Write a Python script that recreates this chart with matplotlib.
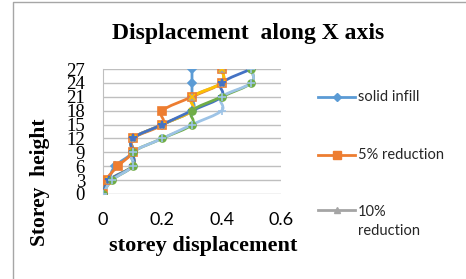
import matplotlib
matplotlib.use("Agg")
import matplotlib.pyplot as plt
from matplotlib.path import Path
from matplotlib.patches import PathPatch
from matplotlib.lines import Line2D
import numpy as np

# storey heights and displacements
storey = [0, 3, 6, 9, 12, 15, 18, 21, 24, 27]
solid_infill = [0, 0.02, 0.04, 0.1, 0.1, 0.2, 0.3, 0.3, 0.3, 0.3]
red_5 = [0, 0.01, 0.05, 0.1, 0.1, 0.2, 0.2, 0.3, 0.4, 0.4]
red_10 = [0, 0.02, 0.1, 0.1, 0.1, 0.2, 0.3, 0.3, 0.4, 0.4]
red_15 = [0, 0.02, 0.1, 0.1, 0.1, 0.2, 0.3, 0.3, 0.4, 0.4]
red_20 = [0, 0.02, 0.1, 0.1, 0.1, 0.2, 0.3, 0.4, 0.4, 0.5]
red_25 = [0, 0.03, 0.1, 0.1, 0.2, 0.3, 0.3, 0.4, 0.5, 0.5]
red_30 = [0, 0.03, 0.1, 0.1, 0.2, 0.3, 0.4, 0.4, 0.5, 0.5]

series = [solid_infill, red_5, red_10, red_15, red_20, red_25, red_30]
colors = ["#5B9BD5", "#ED7D31", "#A5A5A5", "#FFC000", "#4472C4", "#70AD47", "#9DC3E6"]
markers = ["D", "s", "^", "x", "*", "o", "+"]
msizes = [4.5, 5.5, 5, 5, 6, 5, 6]
legend_labels = ["solid infill", "5% reduction", "10%\nreduction"]


def smooth_path(xs, ys):
    # excel-style smoothed line as cubic bezier segments
    pts = np.column_stack([xs, ys]).astype(float)
    n = len(pts)
    verts = [pts[0]]
    codes = [Path.MOVETO]
    for i in range(n - 1):
        p0 = pts[i - 1] if i > 0 else pts[i]
        p1 = pts[i]
        p2 = pts[i + 1]
        p3 = pts[i + 2] if i + 2 < n else pts[i + 1]
        c1 = p1 + (p2 - p0) / 6.0
        c2 = p2 - (p3 - p1) / 6.0
        verts += [c1, c2, p2]
        codes += [Path.CURVE4] * 3
    return Path(verts, codes)


fig = plt.figure(figsize=(4.66, 2.79), dpi=100)
ax = fig.add_axes([103 / 466, 1 - 194 / 279, 178 / 466, 125 / 279])

for xs, c, m, ms in zip(series, colors, markers, msizes):
    ax.add_patch(PathPatch(smooth_path(xs, storey), facecolor="none", edgecolor=c,
                           lw=2, capstyle="round", joinstyle="round", zorder=3))
    ax.plot(xs, storey, linestyle="none", marker=m, color=c, markersize=ms,
            markeredgewidth=1.2, zorder=4)

ax.set_xlim(0, 0.6)
ax.set_ylim(0, 27)
ax.set_xticks([0, 0.2, 0.4, 0.6])
ax.set_xticklabels(["0", "0.2", "0.4", "0.6"], family="Lato", fontsize=13)
ax.set_yticks(storey)
ax.set_yticklabels([str(s) for s in storey], family="Liberation Serif", fontsize=13.5)
ax.tick_params(axis="both", length=0)
ax.tick_params(axis="y", pad=13)
ax.tick_params(axis="x", pad=13)
ax.grid(axis="y", color="#BFBFBF", lw=1)
ax.set_axisbelow(True)
for s in ["top", "right", "bottom"]:
    ax.spines[s].set_visible(False)
ax.spines["left"].set_color("#BFBFBF")

fig.text(248 / 466, 1 - 33 / 279, "Displacement  along X axis", ha="center", va="center",
         family="Liberation Serif", fontweight="bold", fontsize=17)
fig.text(203 / 466, 1 - 246 / 279, "storey displacement", ha="center", va="center",
         family="Liberation Serif", fontweight="bold", fontsize=16)
fig.text(40 / 466, 1 - 182 / 279, "Storey  height", ha="center", va="center", rotation=90,
         family="Liberation Serif", fontweight="bold", fontsize=15.5)

# legend (only first three entries fit in the chart area)
leg_y = [97, 155, 210]
for lbl, c, m, ms, yy in zip(legend_labels, colors, markers, msizes, leg_y):
    yf = 1 - yy / 279
    fig.add_artist(Line2D([318 / 466, 355 / 466], [yf, yf], color=c, lw=2,
                          transform=fig.transFigure))
    fig.add_artist(Line2D([336.5 / 466], [yf], color=c, marker=m, markersize=ms,
                          transform=fig.transFigure))
    fig.text(358 / 466, yf + (5 / 279 if "\n" in lbl else 0), lbl, ha="left",
             va="top" if "\n" in lbl else "center",
             family="Lato", fontsize=10.5, color="#262626", linespacing=1.45)

# chart border
fig.add_artist(Line2D([13 / 466, 13 / 466, 1.0], [0.0, 1 - 2 / 279, 1 - 2 / 279],
                      color="#A6A6A6", lw=1, transform=fig.transFigure))

fig.savefig("out.png", dpi=100)
